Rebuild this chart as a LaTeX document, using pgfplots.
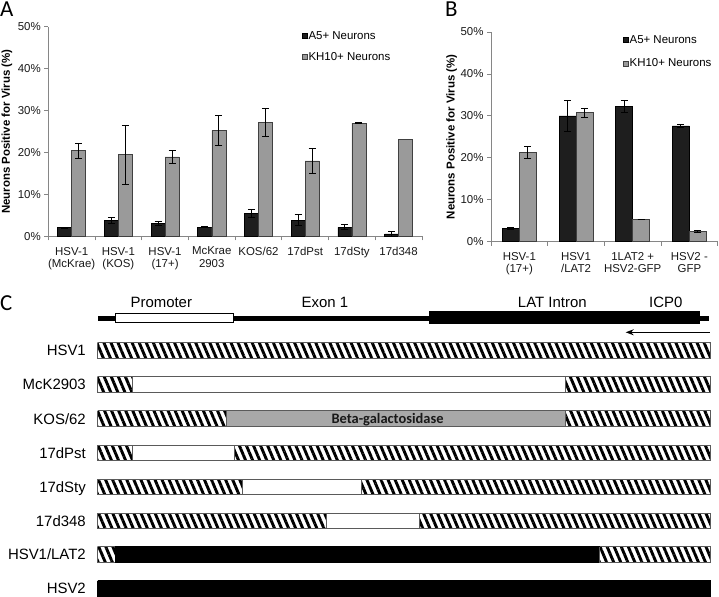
\documentclass[border=0pt]{standalone}
\usepackage{fontspec}
\setmainfont{Liberation Sans}
\newfontfamily\carlito{Carlito}
\usepackage{pgfplots}
\usepackage{pgfplotstable}
\pgfplotsset{compat=1.18}
\usetikzlibrary{patterns.meta, arrows.meta}

\definecolor{barblack}{HTML}{1E1E1E}
\definecolor{bargray}{HTML}{9A9A9A}
\definecolor{axgray}{HTML}{868686}
\definecolor{segedge}{HTML}{5A5A5A}
\definecolor{betagray}{HTML}{A8A8A8}

% bar centres: category centre -0.15 (A5+) and +0.15 (KH10+)
\pgfplotstableread{
x y e
0.35 2.1 0.1
1.35 3.8 0.7
2.35 3.1 0.4
3.35 2.2 0.15
4.35 5.5 0.9
5.35 3.9 1.3
6.35 2.2 0.6
7.35 0.6 0.6
}\Ablack
\pgfplotstableread{
x y e
0.65 20.5 1.8
1.65 19.5 7.0
2.65 19.0 1.5
3.65 25.3 3.6
4.65 27.2 3.4
5.65 18.0 3.0
6.65 27.0 0.15
}\Agray
\pgfplotstableread{
x y
7.65 23.2
}\Agraylast
\pgfplotstableread{
x y e
0.35 3.2 0.2
1.35 30.0 3.6
2.35 32.2 1.4
3.35 27.6 0.35
}\Bblack
\pgfplotstableread{
x y e
0.65 21.3 1.4
1.65 30.8 1.1
2.65 5.3 0.1
3.65 2.4 0.3
}\Bgray

\tikzset{rowlab/.style={anchor=base east, inner sep=0, font=\fontsize{15}{17}\selectfont}}
\pgfplotsset{
  barax/.style={
    scale only axis, anchor=south west,
    axis x line*=bottom, axis y line*=left,
    axis line style={axgray, line width=0.8bp},
    tick align=outside, major tick length=4bp,
    tick style={axgray, line width=0.8bp},
    ymin=0, ymax=50, ytick={0,10,20,30,40,50},
    yticklabels={0\%,10\%,20\%,30\%,40\%,50\%},
    x tick label as interval,
    tick label style={font=\fontsize{11.5}{12.3}\selectfont, text=black!90},
    xticklabel style={align=center, yshift=-3bp},
    ylabel={\bfseries Neurons Positive for Virus (\%)},
    ylabel style={font=\fontsize{11.5}{13}\selectfont, anchor=center},
    legend cell align=left,
    legend style={draw=none, fill=none, font=\fontsize{11.5}{13}\selectfont,
      inner sep=0pt, nodes={inner sep=1bp}, row sep=9.5bp},
    clip=false,
  },
  blackbar/.style={ybar, bar width=0.3, bar shift=0pt, fill=barblack, draw=black, line width=0.5bp,
    legend image code/.code={\draw[fill=barblack, draw=black, line width=0.5bp] (0bp,-2.6bp) rectangle (5.2bp,2.6bp);}},
  graybar/.style={ybar, bar width=0.3, bar shift=0pt, fill=bargray, draw=black!75, line width=0.5bp,
    legend image code/.code={\draw[fill=bargray, draw=black!75, line width=0.5bp] (0bp,-2.6bp) rectangle (5.2bp,2.6bp);}},
  errs/.style={error bars/y dir=both, error bars/y explicit,
    error bars/error bar style={black, line width=0.8bp},
    error bars/error mark options={rotate=90, black, line width=0.8bp, mark size=3.5bp}},
  hatch/.style={pattern={Lines[angle=-67, distance=6.5bp, line width=2.9bp]}, pattern color=black, draw=segedge, line width=0.9bp},
  whiteseg/.style={fill=white, draw=segedge, line width=0.9bp},
  grayseg/.style={fill=betagray, draw=segedge, line width=0.9bp},
  blackseg/.style={fill=black, draw=black, line width=0.9bp},
}

% segment: x1, x2, ytop, ybottom, style
\newcommand\seg[5]{\addplot[#5] coordinates {(#1,#3) (#2,#3) (#2,#4) (#1,#4) (#1,#3)};}

\begin{document}
\begin{tikzpicture}
\path[use as bounding box] (0,0) rectangle (719bp,597bp);

% ---------------- Panel C (gene diagram) ----------------
\begin{axis}[at={(0,0)}, anchor=south west, scale only axis,
  width=719bp, height=597bp, xmin=0, xmax=719, ymin=0, ymax=597,
  y dir=reverse, hide axis, clip=false]
  % titles
  \node[anchor=base west, inner sep=0, font=\carlito\fontsize{23}{25}\selectfont] at (axis cs:0,17) {A};
  \node[anchor=base west, inner sep=0, font=\carlito\fontsize{23}{25}\selectfont] at (axis cs:445,17) {B};
  \node[anchor=base west, inner sep=0, font=\carlito\fontsize{23}{25}\selectfont] at (axis cs:0,310) {C};
  % gene map
  \addplot[black, line width=5bp] coordinates {(98.3,318.3) (709,318.3)};
  \seg{115}{233}{313.3}{322.8}{fill=white, draw=black, line width=0.9bp}
  \seg{429}{699}{311.7}{323.3}{fill=black, draw=black, line width=0.5bp}
  \addplot[black, line width=1.1bp, -{Stealth[length=8bp, width=6bp]}] coordinates {(709.5,332.3) (625.7,332.3)};
  \node[anchor=base, font=\fontsize{15}{17}\selectfont] at (axis cs:161.3,307.7) {Promoter};
  \node[anchor=base, font=\fontsize{15}{17}\selectfont] at (axis cs:325,307.7) {Exon 1};
  \node[anchor=base, font=\fontsize{15}{17}\selectfont] at (axis cs:552.3,307.7) {LAT Intron};
  \node[anchor=base, font=\fontsize{15}{17}\selectfont] at (axis cs:665.7,307.7) {ICP0};
  % rows
  \seg{97.7}{710.7}{342.7}{358.3}{hatch}
  \seg{97.7}{132.3}{376.8}{392.4}{hatch}
  \seg{132.3}{565}{376.8}{392.4}{whiteseg}
  \seg{565}{710.7}{376.8}{392.4}{hatch}
  \seg{97.7}{226}{410.9}{426.5}{hatch}
  \seg{226}{565}{410.9}{426.5}{grayseg}
  \seg{565}{710.7}{410.9}{426.5}{hatch}
  \seg{97.7}{132.3}{445.0}{460.6}{hatch}
  \seg{132.3}{234.3}{445.0}{460.6}{whiteseg}
  \seg{234.3}{710.7}{445.0}{460.6}{hatch}
  \seg{97.7}{242.7}{479.1}{494.7}{hatch}
  \seg{242.7}{361.7}{479.1}{494.7}{whiteseg}
  \seg{361.7}{710.7}{479.1}{494.7}{hatch}
  \seg{97.7}{326.7}{513.2}{528.8}{hatch}
  \seg{326.7}{419}{513.2}{528.8}{whiteseg}
  \seg{419}{710.7}{513.2}{528.8}{hatch}
  \seg{97.7}{115}{546.5}{562.1}{hatch}
  \seg{115}{599.7}{546.5}{562.1}{blackseg}
  \seg{599.7}{710.7}{546.5}{562.1}{hatch}
  \seg{97.7}{710.7}{580.5}{596.1}{blackseg}
  \node[anchor=base, font=\carlito\bfseries\fontsize{14.5}{16}\selectfont, text=black!90] at (axis cs:387.5,423.4) {Beta-galactosidase};
  \node[rowlab] at (axis cs:86,355.8) {HSV1};
  \node[rowlab] at (axis cs:86,389.9) {McK2903};
  \node[rowlab] at (axis cs:86,424) {KOS/62};
  \node[rowlab] at (axis cs:86,458.1) {17dPst};
  \node[rowlab] at (axis cs:86,492.2) {17dSty};
  \node[rowlab] at (axis cs:86,526.3) {17d348};
  \node[rowlab] at (axis cs:86,559.6) {HSV1/LAT2};
  \node[rowlab] at (axis cs:86,593.6) {HSV2};
\end{axis}

% ---------------- Panel A ----------------
\begin{axis}[barax, at={(48.3bp,360.5bp)}, width=373.6bp, height=209.8bp,
  xmin=0, xmax=8, xtick={0,1,...,8},
  xticklabels={HSV-1\\(McKrae), HSV-1\\(KOS), HSV-1\\(17+), McKrae\\2903, KOS/62, 17dPst, 17dSty, 17d348},
  ylabel style={at={(axis description cs:-0.1105,0.5)}},
  legend style={at={(axis description cs:0.678,0.984)}, anchor=north west}]
  \addplot[blackbar, errs] table[x=x, y=y, y error=e] {\Ablack};
  \addlegendentry{A5+ Neurons}
  \addplot[graybar, errs] table[x=x, y=y, y error=e] {\Agray};
  \addlegendentry{KH10+ Neurons}
  \addplot[graybar, forget plot] table[x=x, y=y] {\Agraylast};
\end{axis}

% ---------------- Panel B ----------------
\begin{axis}[barax, at={(491bp,355.3bp)}, width=226.7bp, height=209.7bp,
  xmin=0, xmax=4, xtick={0,1,...,4},
  xticklabels={HSV-1\\(17+), HSV1\\/LAT2, 1LAT2 +\\HSV2-GFP, HSV2 -\\GFP},
  ylabel style={at={(axis description cs:-0.1734,0.5)}},
  legend style={at={(axis description cs:0.581,0.99)}, anchor=north west, row sep=12bp}]
  \addplot[blackbar, errs] table[x=x, y=y, y error=e] {\Bblack};
  \addlegendentry{A5+ Neurons}
  \addplot[graybar, errs] table[x=x, y=y, y error=e] {\Bgray};
  \addlegendentry{KH10+ Neurons}
\end{axis}
\end{tikzpicture}
\end{document}
